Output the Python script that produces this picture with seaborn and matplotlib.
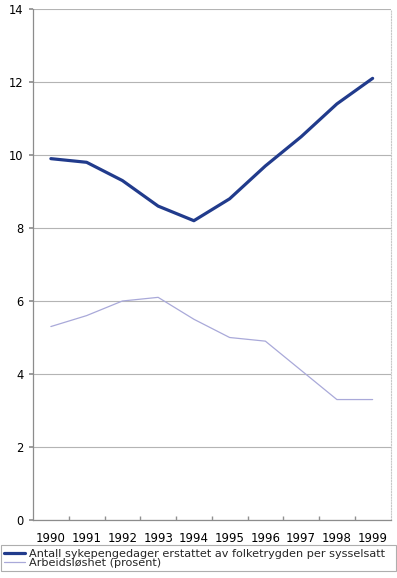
import numpy as np
import pandas as pd
import matplotlib
matplotlib.use("Agg")
import matplotlib.pyplot as plt
import seaborn as sns

years = [1990, 1991, 1992, 1993, 1994, 1995, 1996, 1997, 1998, 1999]
sykepenger = [9.9, 9.8, 9.3, 8.6, 8.2, 8.8, 9.7, 10.5, 11.4, 12.1]
ledighet = [5.3, 5.6, 6.0, 6.1, 5.5, 5.0, 4.9, 4.1, 3.3, 3.3]
label_syk = "Antall sykepengedager erstattet av folketrygden per sysselsatt"
label_led = "Arbeidsløshet (prosent)"
y_ticks = [0, 2, 4, 6, 8, 10, 12, 14]

sns.set_theme(style="white")
plt.rcParams['font.family'] = ['DejaVu Sans']

df = pd.DataFrame({"pos": np.arange(len(years)),
                   "syk": sykepenger, "led": ledighet})

W, H = 397, 578
fig = plt.figure(figsize=(W / 100, H / 100), dpi=100)
ax = fig.add_axes([33 / W, (H - 520) / H, (390.5 - 33) / W, (520 - 9) / H])

sns.lineplot(data=df, x="pos", y="syk", ax=ax, color="#213b8c",
             linewidth=2.3, label=label_syk)
sns.lineplot(data=df, x="pos", y="led", ax=ax, color="#a9a9d9",
             linewidth=0.9, label=label_led)

ax.set_xlim(-0.5, len(years) - 0.5)
ax.set_ylim(0, 14)
ax.set_yticks(y_ticks)
ax.set_yticklabels([str(t) for t in y_ticks], fontsize=8.3)
ax.set_xticks(np.arange(len(years)))
ax.set_xticklabels([str(y) for y in years], fontsize=8.5)
ax.set_xticks(np.arange(len(years) - 1) + 0.5, minor=True)
ax.set_xlabel("")
ax.set_ylabel("")

ax.yaxis.grid(True, color="#b4b4b4", linewidth=0.8)
ax.xaxis.grid(False)
ax.tick_params(axis="x", which="major", length=0, pad=9, colors="#000000")
ax.tick_params(axis="x", which="minor", length=3, direction="in",
               color="#909090", bottom=True)
ax.tick_params(axis="y", length=3, direction="out", color="#909090",
               left=True, pad=4, colors="#000000")
ax.tick_params(axis="y", colors="#909090", labelcolor="#000000")

for side in ["left", "bottom"]:
    ax.spines[side].set_color("#8c8c8c")
    ax.spines[side].set_linewidth(0.9)
ax.spines["top"].set_visible(False)
ax.spines["right"].set_color("#c8c8c8")
ax.spines["right"].set_linestyle((0, (1, 1.5)))
ax.spines["right"].set_linewidth(0.8)

handles, labels = ax.get_legend_handles_labels()
ax.get_legend().remove()
leg = fig.legend(handles, labels, loc="upper left", mode="expand",
                 bbox_to_anchor=(0.5 / W, (H - 545.5) / H, 395 / W, 0.0001),
                 fontsize=8.1, frameon=True, fancybox=False,
                 handlelength=1.9, handletextpad=0.3, labelspacing=-0.1,
                 borderpad=0.3, borderaxespad=0)
leg.get_frame().set_edgecolor("#9a9a9a")
leg.get_frame().set_linewidth(0.8)

fig.savefig("out.png", dpi=100, facecolor="white")
